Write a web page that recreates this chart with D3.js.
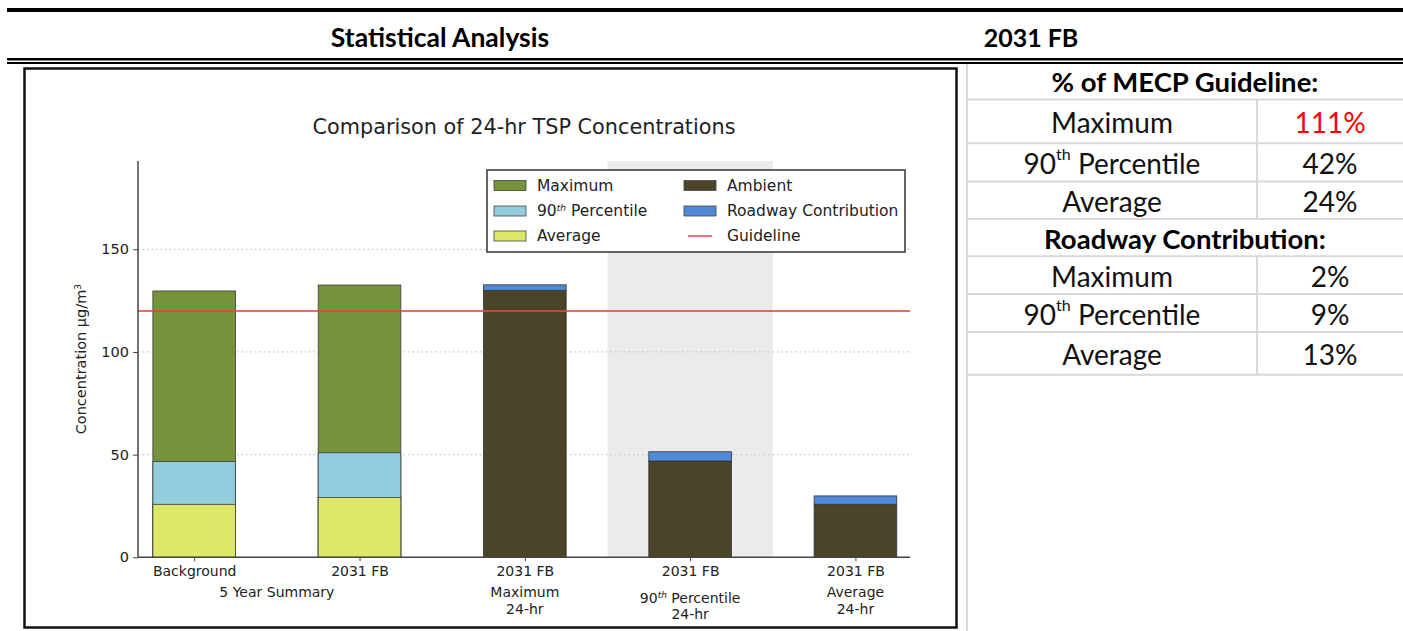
<!DOCTYPE html>
<html lang="en">
<head>
    <meta charset="UTF-8">
    <title>Comparison of 24-hr TSP Concentrations | D3</title>
    <style>
        body { margin: 0; background: #fff; }
    </style>
</head>
<body>
    <div class="page"></div>

    <script src="https://cdn.jsdelivr.net/npm/d3@7/dist/d3.min.js"></script>
    <script>
        // chart data
        var categories = ["Background", "2031 FB", "2031 FB", "2031 FB", "2031 FB"];
        var groupLabel = "5 Year Summary";
        var subLabels = [[], [], ["Maximum", "24-hr"], ["90|th| Percentile", "24-hr"], ["Average", "24-hr"]];

        var summaryIdx = [0, 1];
        var maxValues = [129.7, 132.6];
        var p90Values = [46.6, 50.9];
        var avgValues = [25.8, 29.1];

        var modelIdx = [2, 3, 4];
        var ambientValues = [130.0, 46.9, 25.8];
        var roadwayValues = [2.7, 4.5, 4.1];

        var guideline = 120;
        var yTicks = [0, 50, 100, 150];
        var highlightIdx = 3;

        // side table
        var rowNames = ["Maximum", "90|th| Percentile", "Average"];
        var guidelinePct = ["111%", "42%", "24%"];
        var roadwayPct = ["2%", "9%", "13%"];

        var colors = {
            maximum: "#76923b",
            p90: "#93cddd",
            average: "#dde868",
            ambient: "#4a4428",
            roadway: "#4f8ad8",
            guide: "#f04040"
        };

        var W = 1403, H = 631;
        var svg = d3.select(".page").append("svg")
            .attr("width", W).attr("height", H)
            .style("display", "block");

        // page frame lines
        svg.append("rect").attr("x", 7).attr("y", 8).attr("width", W - 7).attr("height", 4).attr("fill", "#000");
        svg.append("rect").attr("x", 7).attr("y", 58).attr("width", W - 7).attr("height", 2.5).attr("fill", "#000");
        svg.append("rect").attr("x", 7).attr("y", 62).attr("width", W - 7).attr("height", 2).attr("fill", "#000");

        var calibri = "Lato, 'Open Sans', sans-serif";
        svg.append("text").attr("x", 440).attr("y", 37).attr("text-anchor", "middle")
            .attr("dominant-baseline", "central")
            .style("font-family", calibri).style("font-weight", "bold").style("font-size", "26.5px")
            .text("Statistical Analysis");
        svg.append("text").attr("x", 1031).attr("y", 37).attr("text-anchor", "middle")
            .attr("dominant-baseline", "central")
            .style("font-family", calibri).style("font-weight", "bold").style("font-size", "25px")
            .text("2031 FB");

        // helper: write "90|th| Percentile" with a superscript
        function writeSup(sel, str, supSize, italic) {
            var parts = str.split("|");
            sel.append("tspan").text(parts[0]);
            if (parts.length > 1) {
                sel.append("tspan").attr("baseline-shift", "super").style("font-size", supSize)
                    .style("font-style", italic ? "italic" : "normal").text(parts[1]);
                sel.append("tspan").text(parts[2]);
            }
        }

        // ---- table on the right ----
        var tLeft = 967, tMid = 1257, tRight = W;
        var rowEdges = [62, 99.6, 143.2, 181.5, 219, 256.3, 294, 332, 374.8];
        var table = svg.append("g").attr("class", "table");
        table.append("line").attr("x1", tLeft).attr("x2", tLeft).attr("y1", 64).attr("y2", H)
            .attr("stroke", "#d9d9d9").attr("stroke-width", 2);
        rowEdges.slice(1).forEach(function(y) {
            table.append("line").attr("x1", tLeft).attr("x2", tRight).attr("y1", y).attr("y2", y)
                .attr("stroke", "#d9d9d9").attr("stroke-width", 2);
        });
        [[1, 4], [5, 8]].forEach(function(r) {
            table.append("line").attr("x1", tMid).attr("x2", tMid)
                .attr("y1", rowEdges[r[0]]).attr("y2", rowEdges[r[1]])
                .attr("stroke", "#d9d9d9").attr("stroke-width", 2);
        });

        var sections = [
            { title: "% of MECP Guideline:", values: guidelinePct, start: 0 },
            { title: "Roadway Contribution:", values: roadwayPct, start: 4 }
        ];
        sections.forEach(function(s) {
            var yc = (rowEdges[s.start] + rowEdges[s.start + 1]) / 2 + 1;
            table.append("text").attr("x", (tLeft + tRight) / 2).attr("y", yc)
                .attr("text-anchor", "middle").attr("dominant-baseline", "central")
                .style("font-family", calibri).style("font-weight", "bold").style("font-size", "27.5px")
                .text(s.title);
            rowNames.forEach(function(name, i) {
                var y0 = rowEdges[s.start + 1 + i], y1 = rowEdges[s.start + 2 + i];
                var ty = (y0 + y1) / 2 + 1;
                var t = table.append("text").attr("x", (tLeft + tMid) / 2).attr("y", ty)
                    .attr("text-anchor", "middle").attr("dominant-baseline", "central")
                    .style("font-family", calibri).style("font-size", "28px").attr("fill", "#111");
                writeSup(t, name, "16px", false);
                table.append("text").attr("x", (tMid + tRight) / 2).attr("y", ty)
                    .attr("text-anchor", "middle").attr("dominant-baseline", "central")
                    .style("font-family", calibri).style("font-size", "28px")
                    .attr("fill", (s.start === 0 && i === 0) ? "#ff0000" : "#111")
                    .text(s.values[i]);
            });
        });

        // ---- chart picture frame ----
        svg.append("rect").attr("x", 24.5).attr("y", 68.5).attr("width", 932).attr("height", 559)
            .attr("fill", "#fff").attr("stroke", "#111").attr("stroke-width", 2.5);

        var plot = { left: 138, right: 910, top: 161, bottom: 557.3 };
        var x = d3.scaleLinear().domain([-0.34, 4.33]).range([plot.left, plot.right]);
        var y = d3.scaleLinear().domain([0, 193]).range([plot.bottom, plot.top]);
        var barW = x(0.5) - x(0);
        var mpl = "'DejaVu Sans', sans-serif";

        var chart = svg.append("g").attr("class", "chart");

        // highlighted band behind the 90th percentile bar
        chart.append("rect")
            .attr("x", x(highlightIdx - 0.5)).attr("y", plot.top)
            .attr("width", x(highlightIdx + 0.5) - x(highlightIdx - 0.5))
            .attr("height", plot.bottom - plot.top)
            .attr("fill", "#ebebeb");

        // dotted grid
        chart.append("g").selectAll("line").data(yTicks.slice(1)).enter()
            .append("line")
            .attr("x1", plot.left).attr("x2", plot.right)
            .attr("y1", function(d) { return y(d); }).attr("y2", function(d) { return y(d); })
            .attr("stroke", "#c8c8c8").attr("stroke-width", 1.3).attr("stroke-dasharray", "1.5,3");

        // overlapping summary bars: maximum, then 90th, then average on top
        var layers = [
            { vals: maxValues, color: colors.maximum },
            { vals: p90Values, color: colors.p90 },
            { vals: avgValues, color: colors.average }
        ];
        layers.forEach(function(layer) {
            chart.append("g").selectAll("rect").data(summaryIdx).enter()
                .append("rect")
                .attr("x", function(d) { return x(d) - barW / 2; })
                .attr("width", barW)
                .attr("y", function(d, i) { return y(layer.vals[i]); })
                .attr("height", function(d, i) { return y(0) - y(layer.vals[i]); })
                .attr("fill", layer.color)
                .attr("stroke", "#3a3a3a").attr("stroke-width", 0.8);
        });

        // stacked ambient + roadway bars
        chart.append("g").selectAll("rect").data(modelIdx).enter()
            .append("rect")
            .attr("x", function(d) { return x(d) - barW / 2; })
            .attr("width", barW)
            .attr("y", function(d, i) { return y(ambientValues[i]); })
            .attr("height", function(d, i) { return y(0) - y(ambientValues[i]); })
            .attr("fill", colors.ambient)
            .attr("stroke", "#333").attr("stroke-width", 0.8);
        chart.append("g").selectAll("rect").data(modelIdx).enter()
            .append("rect")
            .attr("x", function(d) { return x(d) - barW / 2; })
            .attr("width", barW)
            .attr("y", function(d, i) { return y(ambientValues[i] + roadwayValues[i]); })
            .attr("height", function(d, i) { return y(ambientValues[i]) - y(ambientValues[i] + roadwayValues[i]); })
            .attr("fill", colors.roadway)
            .attr("stroke", "#333").attr("stroke-width", 0.8);

        // guideline
        chart.append("line")
            .attr("x1", plot.left).attr("x2", plot.right)
            .attr("y1", y(guideline)).attr("y2", y(guideline))
            .attr("stroke", colors.guide).attr("stroke-width", 2).attr("stroke-opacity", 0.8);

        // axes
        var yAxis = chart.append("g")
            .attr("transform", "translate(" + plot.left + ",0)")
            .call(d3.axisLeft(y).tickValues(yTicks).tickSize(5).tickPadding(4));
        var xAxis = chart.append("g")
            .attr("transform", "translate(0," + plot.bottom + ")")
            .call(d3.axisBottom(x).tickValues(d3.range(categories.length)).tickSize(4).tickPadding(5)
                .tickFormat(function(d) { return categories[d]; }));
        [yAxis, xAxis].forEach(function(ax) {
            ax.select(".domain").attr("stroke", "#444").attr("stroke-width", 1.5);
            ax.selectAll(".tick line").attr("stroke", "#444");
            ax.selectAll("text").style("font-family", mpl).attr("fill", "#222");
        });
        yAxis.select(".domain").attr("d", "M0," + plot.bottom + "V" + plot.top);
        xAxis.select(".domain").attr("d", "M" + plot.left + ",0H" + plot.right);
        yAxis.selectAll("text").style("font-size", "14.5px");
        xAxis.selectAll("text").style("font-size", "14px");

        // second / third line of x labels
        chart.append("text").attr("x", x(0.5)).attr("y", 597)
            .attr("text-anchor", "middle")
            .style("font-family", mpl).style("font-size", "14px").attr("fill", "#222")
            .text(groupLabel);
        subLabels.forEach(function(lines, i) {
            lines.forEach(function(line, j) {
                var yy = (i === highlightIdx) ? 603 + j * 16 : 597 + j * 17;
                var t = chart.append("text").attr("x", x(i)).attr("y", yy)
                    .attr("text-anchor", "middle")
                    .style("font-family", mpl).style("font-size", "14px").attr("fill", "#222");
                writeSup(t, line, "9px", true);
            });
        });

        // y label and title
        chart.append("text")
            .attr("transform", "translate(86," + ((plot.top + plot.bottom) / 2) + ") rotate(-90)")
            .attr("text-anchor", "middle")
            .style("font-family", mpl).style("font-size", "14.5px").attr("fill", "#222")
            .html("Concentration µg/m<tspan baseline-shift='super' font-size='9px'>3</tspan>");
        chart.append("text")
            .attr("x", (plot.left + plot.right) / 2).attr("y", 134)
            .attr("text-anchor", "middle")
            .style("font-family", mpl).style("font-size", "20.8px").attr("fill", "#222")
            .text("Comparison of 24-hr TSP Concentrations");

        // legend
        var legend = chart.append("g").attr("class", "legend");
        legend.append("rect").attr("x", 487).attr("y", 170).attr("width", 418).attr("height", 82)
            .attr("fill", "#fff").attr("stroke", "#333").attr("stroke-width", 1.5);
        var legendItems = [
            { label: "Maximum", color: colors.maximum, col: 0, row: 0 },
            { label: "90|th| Percentile", color: colors.p90, col: 0, row: 1 },
            { label: "Average", color: colors.average, col: 0, row: 2 },
            { label: "Ambient", color: colors.ambient, col: 1, row: 0 },
            { label: "Roadway Contribution", color: colors.roadway, col: 1, row: 1 },
            { label: "Guideline", line: true, color: colors.guide, col: 1, row: 2 }
        ];
        var colX = [494, 684], rowY = [185.5, 211, 236];
        legendItems.forEach(function(it) {
            var lx = colX[it.col], ly = rowY[it.row];
            if (it.line) {
                legend.append("line").attr("x1", lx + 4).attr("x2", lx + 28).attr("y1", ly).attr("y2", ly)
                    .attr("stroke", it.color).attr("stroke-width", 1.5);
            } else {
                legend.append("rect").attr("x", lx).attr("y", ly - 5).attr("width", 32).attr("height", 10)
                    .attr("fill", it.color).attr("stroke", "#444").attr("stroke-width", 0.8);
            }
            var t = legend.append("text").attr("x", lx + 43).attr("y", ly).attr("dy", "0.35em")
                .style("font-family", mpl).style("font-size", "15.5px").attr("fill", "#222");
            writeSup(t, it.label, "9px", true);
        });
    </script>
</body>
</html>
